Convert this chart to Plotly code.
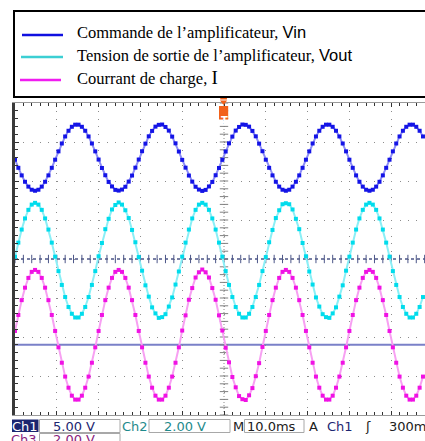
import plotly.graph_objects as go

# ---- acquisition settings -------------------------------------------------
T0_MS = -50.0          # first sample time relative to trigger (ms)
DT_MS = 0.8            # sample interval (ms)

CH1_VDIV, CH2_VDIV, CH3_VDIV = 5.0, 2.0, 2.0      # volts per division
CH1_POS, CH2_POS, CH3_POS = 2.6, 0.0, -1.95       # ground position (div)
REF_LEVEL_DIV = -2.2                               # reference level line (div)

# ---- recorded samples (V) -------------------------------------------------
vin = [
    -0.27, -1.31, -2.28, -3.10, -3.72, -4.12, -4.25, -4.12, -3.72, -3.10, -2.28, -1.31, -0.27, 0.80, 1.81, 2.71, 3.44, 3.95, 4.22, 4.22, 3.95, 3.44, 2.71, 1.81, 0.80,
    -0.25, -1.33, -2.26, -3.12, -3.70, -4.14, -4.23, -4.10, -3.74, -3.08, -2.30, -1.29, -0.25, 0.82, 1.79, 2.73, 3.42, 3.97, 4.20, 4.24, 3.93, 3.46, 2.69, 1.83, 0.78,
    -0.29, -1.29, -2.30, -3.08, -3.74, -4.10, -4.27, -4.14, -3.70, -3.12, -2.26, -1.33, -0.29, 0.78, 1.83, 2.69, 3.46, 3.93, 4.24, 4.20, 3.97, 3.42, 2.73, 1.79, 0.82,
    -0.27, -1.31, -2.28, -3.10, -3.72, -4.12, -4.25, -4.12, -3.72, -3.10, -2.28, -1.31, -0.27, 0.80, 1.81, 2.71, 3.44, 3.95, 4.22, 4.22, 3.95, 3.44, 2.71, 1.81, 0.80,
    -0.27, -1.31, -2.28, -3.10, -3.72, -4.12, -4.25, -4.12, -3.72, -3.10, -2.28, -1.31, -0.27, 0.80, 1.81, 2.71, 3.44, 3.95, 4.22, 4.22, 3.95, 3.44, 2.71,
]
vout = [
    0.12, 0.84, 1.51, 2.08, 2.52, 2.79, 2.88, 2.79, 2.52, 2.08, 1.51, 0.84, 0.12, -0.62, -1.33, -1.95, -2.46, -2.81, -3.00, -3.00, -2.81, -2.46, -1.95, -1.33, -0.62,
    0.14, 0.82, 1.53, 2.06, 2.54, 2.77, 2.90, 2.79, 2.50, 2.10, 1.49, 0.86, 0.10, -0.60, -1.35, -1.93, -2.48, -2.79, -3.02, -2.98, -2.83, -2.44, -1.97, -1.31, -0.64,
    0.12, 0.84, 1.51, 2.08, 2.52, 2.79, 2.88, 2.79, 2.52, 2.08, 1.51, 0.84, 0.12, -0.62, -1.33, -1.95, -2.46, -2.81, -3.00, -3.00, -2.81, -2.46, -1.95, -1.33, -0.62,
    0.10, 0.86, 1.49, 2.10, 2.50, 2.81, 2.86, 2.81, 2.54, 2.06, 1.53, 0.82, 0.14, -0.64, -1.31, -1.97, -2.44, -2.83, -2.98, -3.02, -2.79, -2.48, -1.93, -1.35, -0.60,
    0.12, 0.84, 1.51, 2.08, 2.52, 2.79, 2.88, 2.79, 2.52, 2.08, 1.51, 0.84, 0.12, -0.62, -1.33, -1.95, -2.46, -2.81, -3.00, -3.00, -2.81, -2.46, -1.95,
]
i_load = [
    0.21, 1.03, 1.79, 2.43, 2.93, 3.24, 3.34, 3.24, 2.93, 2.43, 1.79, 1.03, 0.21, -0.63, -1.42, -2.13, -2.70, -3.11, -3.31, -3.31, -3.11, -2.70, -2.13, -1.42, -0.63,
    0.21, 1.03, 1.79, 2.43, 2.93, 3.24, 3.34, 3.24, 2.93, 2.43, 1.79, 1.03, 0.21, -0.63, -1.42, -2.13, -2.70, -3.11, -3.31, -3.31, -3.11, -2.70, -2.13, -1.42, -0.63,
    0.23, 1.01, 1.81, 2.41, 2.95, 3.22, 3.36, 3.22, 2.95, 2.41, 1.81, 1.01, 0.23, -0.65, -1.40, -2.15, -2.68, -3.13, -3.29, -3.33, -3.09, -2.72, -2.11, -1.44, -0.61,
    0.21, 1.03, 1.79, 2.43, 2.93, 3.24, 3.34, 3.24, 2.93, 2.43, 1.79, 1.03, 0.21, -0.63, -1.42, -2.13, -2.70, -3.11, -3.31, -3.31, -3.11, -2.70, -2.13, -1.42, -0.63,
    0.21, 1.03, 1.79, 2.43, 2.93, 3.24, 3.34, 3.24, 2.93, 2.43, 1.79, 1.03, 0.21, -0.63, -1.42, -2.13, -2.70, -3.11, -3.31, -3.31, -3.11, -2.70, -2.13,
]

t_ms = [T0_MS + k * DT_MS for k in range(len(vin))]

# ---- page geometry (pixels) -----------------------------------------------
W, H = 425, 441
PL, PR, PT, PB = 15, 425, 103, 415
X_MAX = T0_MS + (PR - PL) / 41.8 * 10.0   # 10 ms/div, 41.8 px/div


def fx(px):
    return (px - PL) / (PR - PL)


def fy(py):
    return (PB - py) / (PB - PT)


def vrange(vdiv, pos):
    return [(-4 - pos) * vdiv, (4 - pos) * vdiv]


BLUE, BLUE_L = "#1414e6", "#8e8ef6"
CYAN, CYAN_L = "#00dcec", "#8beff6"
MAG, MAG_L = "#f012e4", "#f7a0f2"

fig = go.Figure()

# crosshair tick marks on the centre lines
fig.add_trace(go.Scatter(
    x=[T0_MS + 2 * k for k in range(50)], y=[0] * 50, mode="markers",
    marker=dict(symbol="line-ns", size=6, line=dict(width=1, color="#4c5688")),
    hoverinfo="skip", showlegend=False))
fig.add_trace(go.Scatter(
    x=[0] * 41, y=[-4 + 0.2 * k for k in range(41)], mode="markers",
    marker=dict(symbol="line-ew", size=6, line=dict(width=1, color="#808080")),
    hoverinfo="skip", showlegend=False))

channels = [
    ("Vin", vin, "y2", BLUE, BLUE_L),
    ("Vout", vout, "y3", CYAN, CYAN_L),
    ("I", i_load, "y4", MAG, MAG_L),
]
for name, vals, yax, col, col_l in channels:
    fig.add_trace(go.Scatter(
        x=t_ms, y=vals, yaxis=yax, name=name, mode="lines+markers",
        line=dict(color=col_l, width=2),
        marker=dict(color=col, size=4, symbol="square", line=dict(width=0)),
        showlegend=False))
    # ground-level marker on the left edge
    fig.add_trace(go.Scatter(
        x=[T0_MS - 0.8], y=[0], yaxis=yax, mode="markers", cliponaxis=False,
        marker=dict(symbol="triangle-right", size=6, color=col),
        hoverinfo="skip", showlegend=False))

grid_col = "#8c8c8c"
fig.update_layout(
    width=W, height=H,
    margin=dict(l=PL, r=W - PR, t=PT, b=H - PB, pad=0),
    paper_bgcolor="white", plot_bgcolor="white",
    xaxis=dict(range=[T0_MS, X_MAX], showticklabels=False, zeroline=False,
               showgrid=True, gridcolor=grid_col, griddash="1px,6.8px", gridwidth=1,
               tick0=0, dtick=10, ticks="inside", ticklen=4, tickcolor="#333333",
               minor=dict(dtick=2, ticks="inside", ticklen=3, tickcolor="#333333", showgrid=False),
               showline=True, linecolor="#9a9a9a", linewidth=1, mirror="ticks"),
    yaxis=dict(range=[-4, 4], showticklabels=False, zeroline=False,
               showgrid=True, gridcolor=grid_col, griddash="1px,7.36px", gridwidth=1,
               tick0=0, dtick=1, ticks="inside", ticklen=4, tickcolor="#333333",
               minor=dict(dtick=0.2, ticks="inside", ticklen=3, tickcolor="#333333", showgrid=False),
               showline=True, linecolor="#3a3a3a", linewidth=3),
    yaxis2=dict(range=vrange(CH1_VDIV, CH1_POS), overlaying="y", visible=False),
    yaxis3=dict(range=vrange(CH2_VDIV, CH2_POS), overlaying="y", visible=False),
    yaxis4=dict(range=vrange(CH3_VDIV, CH3_POS), overlaying="y", visible=False),
)

shapes = []
# centre lines
shapes.append(dict(type="line", xref="x domain", yref="y", x0=0, x1=1, y0=0, y1=0,
                   line=dict(color="#4c5688", width=1.5, dash="3px,3px"), layer="below"))
shapes.append(dict(type="line", xref="x", yref="y domain", x0=0, x1=0, y0=0, y1=1,
                   line=dict(color="#8a8a8a", width=1, dash="1px,2px"), layer="below"))
# reference level
shapes.append(dict(type="line", xref="x domain", yref="y", x0=0, x1=1,
                   y0=REF_LEVEL_DIV, y1=REF_LEVEL_DIV,
                   line=dict(color="#7a80c8", width=2), layer="below"))
# trigger marker
ORANGE = "#f2611a"
shapes.append(dict(type="rect", xref="x", yref="paper", x0=-0.9, x1=0.7,
                   y0=fy(99.5), y1=fy(96.5), fillcolor=ORANGE, line=dict(width=0)))
shapes.append(dict(type="path", xref="x", yref="paper",
                   path=f"M -0.95,{fy(100.5)} L 0.75,{fy(100.5)} L -0.1,{fy(105)} Z",
                   fillcolor=ORANGE, line=dict(width=0)))
shapes.append(dict(type="rect", xref="x", yref="paper", x0=-1.2, x1=1.0,
                   y0=fy(119.5), y1=fy(106), fillcolor=ORANGE, line=dict(width=0)))

# legend panel
shapes.append(dict(type="rect", xref="paper", yref="paper", x0=fx(14), x1=fx(440),
                   y0=fy(97), y1=fy(11), fillcolor="white",
                   line=dict(color="black", width=2)))
for col, y, xa, xb in [("#1010e0", 35, 22, 63), ("#3ccfd3", 57, 21, 63), ("#f01cf0", 80, 20, 61)]:
    shapes.append(dict(type="line", xref="paper", yref="paper", x0=fx(xa), x1=fx(xb),
                       y0=fy(y), y1=fy(y), line=dict(color=col, width=2.5)))

# status bar boxes
NAVY, TEAL, PURP = "#1c2670", "#1e8a8c", "#8a1c7c"
shapes.append(dict(type="rect", xref="paper", yref="paper", x0=fx(12), x1=fx(38.5),
                   y0=fy(432), y1=fy(419.5), fillcolor=NAVY, line=dict(width=0)))
for xa, xb, ya, yb in [(39.5, 120, 419.5, 432.5), (149, 230, 419.5, 432.5),
                       (244.5, 304, 419.5, 432.5), (39.5, 120, 433.5, 446)]:
    shapes.append(dict(type="rect", xref="paper", yref="paper", x0=fx(xa), x1=fx(xb),
                       y0=fy(yb), y1=fy(ya), fillcolor="white",
                       line=dict(color="#a8a8a8", width=1)))
fig.update_layout(shapes=shapes)

ann = []
ann.append(dict(x=0, y=fy(113), xref="x", yref="paper", text="<b>T</b>", showarrow=False,
                font=dict(family="DejaVu Sans", size=10, color="white")))

SERIF = "Liberation Serif"
legend_rows = [
    (33, "Commande de l\u2019amplificateur, <span style=\"font-family:Liberation Sans\">Vin</span>"),
    (55, "Tension de sortie de l\u2019amplificateur, <span style=\"font-family:Liberation Sans\">Vout</span>"),
    (77, "Courrant de charge, <span style=\"font-size:19px\">I</span>"),
]
for y, txt in legend_rows:
    ann.append(dict(x=fx(75), y=fy(y), xref="paper", yref="paper", text=txt,
                    xanchor="left", yanchor="middle", showarrow=False,
                    font=dict(family=SERIF, size=16.5, color="black")))

MONO = "DejaVu Sans"
status = [
    (25, 426, "Ch1", "white", "center"),
    (74, 426, "5.00 V", NAVY, "center"),
    (134.5, 426, "Ch2", TEAL, "center"),
    (185, 426, "2.00 V", TEAL, "center"),
    (238, 426, "M", "#202020", "center"),
    (271, 426, "10.0ms", "#202020", "center"),
    (313, 426, "A", "#202020", "center"),
    (340, 426, "Ch1", NAVY, "center"),
    (368, 426, "\u0283", "#202020", "center"),
    (387, 426, "300m", "#202020", "left"),
    (24, 439, "Ch3", PURP, "center"),
    (74, 439, "2.00 V", PURP, "center"),
]
for x, y, txt, col, anchor in status:
    ann.append(dict(x=fx(x), y=fy(y), xref="paper", yref="paper", text=txt,
                    xanchor=anchor, yanchor="middle", showarrow=False,
                    font=dict(family=MONO, size=13, color=col)))
fig.update_layout(annotations=ann)

fig.write_html("out.html")
